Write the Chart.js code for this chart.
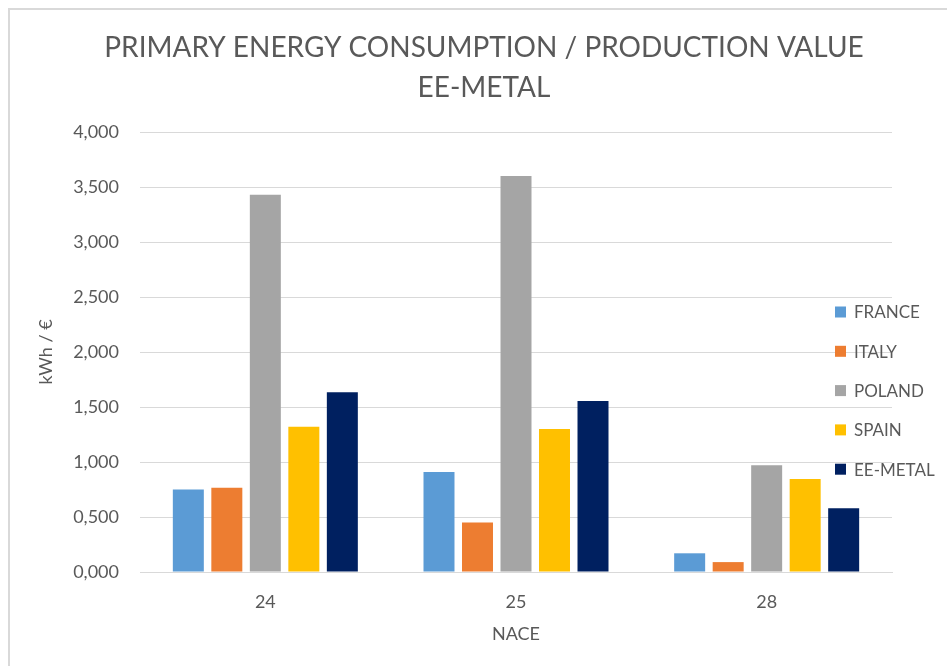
<!DOCTYPE html>
<html>
<head>
<meta charset="utf-8">
<script src="https://cdn.jsdelivr.net/npm/chart.js@4.4.1/dist/chart.umd.min.js"></script>
<style>
  html, body { margin: 0; padding: 0; background: #fff; overflow: hidden; }
  #frame { position: absolute; left: 8px; top: 8px; width: 1000px; height: 1000px;
           border-left: 2px solid #d9d9d9; border-top: 2px solid #d9d9d9; }
  #wrap { position: absolute; left: 0; top: 0; width: 947px; height: 666px; }
</style>
</head>
<body>
<div id="frame"></div>
<div id="wrap"><canvas id="chart"></canvas></div>
<script>
// values (kWh / euro of production value)
var categories = ["24", "25", "28"];
var seriesNames = ["FRANCE", "ITALY", "POLAND", "SPAIN", "EE-METAL"];
var france = [0.75, 0.91, 0.17];
var italy = [0.765, 0.45, 0.09];
var poland = [3.43, 3.60, 0.97];
var spain = [1.32, 1.30, 0.845];
var eeMetal = [1.635, 1.555, 0.58];
var colors = ["#5B9BD5", "#ED7D31", "#A5A5A5", "#FFC000", "#002060"];
var titleLines = ["PRIMARY ENERGY CONSUMPTION / PRODUCTION VALUE", "EE-METAL"];

var textColor = "#595959";
var fontFamily = "Lato, 'Open Sans', sans-serif";

var values = [france, italy, poland, spain, eeMetal];
var datasets = seriesNames.map(function (name, i) {
    return {
        label: name,
        data: values[i],
        backgroundColor: colors[i],
        categoryPercentage: 0.768,
        barPercentage: 0.805
    };
});

// title and legend drawn by hand so they sit where the original has them
var overlay = {
    id: "overlay",
    afterDraw: function (chart) {
        var c = chart.ctx;
        c.save();
        c.fillStyle = textColor;
        c.textAlign = "center";
        c.textBaseline = "middle";
        c.font = "28px " + fontFamily;
        c.fillText(titleLines[0], 484, 48);
        c.fillText(titleLines[1], 484, 88);

        c.textAlign = "left";
        c.font = "17px " + fontFamily;
        chart.data.datasets.forEach(function (ds, i) {
            var y = 312 + i * 39.3;
            c.fillStyle = ds.backgroundColor;
            c.fillRect(835, y - 5.5, 11, 11);
            c.fillStyle = textColor;
            c.fillText(ds.label, 854, y + 1);
        });
        c.restore();
    }
};

new Chart(document.getElementById("chart"), {
    type: "bar",
    data: {
        labels: categories,
        datasets: datasets
    },
    options: {
        responsive: true,
        maintainAspectRatio: false,
        animation: false,
        layout: {
            padding: { top: 132, right: 55, left: 0, bottom: 0 }
        },
        plugins: {
            legend: { display: false },
            title: { display: false },
            tooltip: { enabled: false }
        },
        scales: {
            x: {
                grid: { display: false },
                border: { display: true, color: "#d9d9d9", width: 1 },
                ticks: { color: textColor, font: { family: fontFamily, size: 18 }, padding: 11 },
                title: {
                    display: true,
                    text: "NACE",
                    color: textColor,
                    font: { family: fontFamily, size: 18 },
                    padding: { top: 0, bottom: 21 }
                },
                afterFit: function (scale) { scale.height = 94; }
            },
            y: {
                min: 0,
                max: 4,
                grid: { color: "#d9d9d9", drawTicks: false },
                border: { display: false },
                ticks: {
                    stepSize: 0.5,
                    color: textColor,
                    font: { family: fontFamily, size: 18 },
                    padding: 21,
                    callback: function (v) { return v.toFixed(3).replace(".", ","); }
                },
                title: {
                    display: true,
                    text: "kWh / €",
                    color: textColor,
                    font: { family: fontFamily, size: 18 },
                    padding: { top: 35, bottom: 0 }
                },
                afterFit: function (scale) { scale.width = 140; }
            }
        }
    },
    plugins: [overlay]
});
</script>
</body>
</html>
